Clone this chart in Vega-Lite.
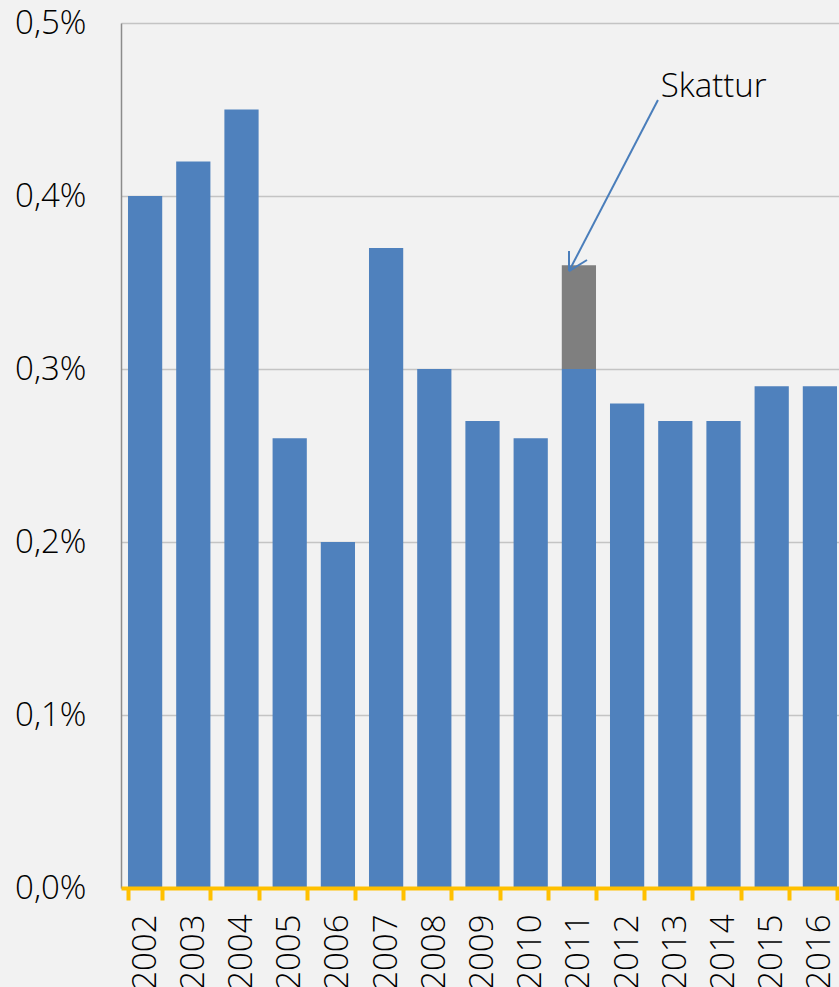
{
  "$schema": "https://vega.github.io/schema/vega-lite/v6.json",
  "autosize": "none",
  "width": 718,
  "height": 865,
  "padding": {"left": 121, "top": 23, "right": 0, "bottom": 99},
  "background": "#F2F2F2",
  "config": {
    "view": {"stroke": null, "fill": "#F2F2F2"},
    "font": "Open Sans",
    "locale": {"number": {"decimal": ",", "thousands": ".", "grouping": [3], "currency": ["", " kr"]}}
  },
  "datasets": {
    "bars": [
      {"year": "2002", "part": "base", "value": 0.0040},
      {"year": "2003", "part": "base", "value": 0.0042},
      {"year": "2004", "part": "base", "value": 0.0045},
      {"year": "2005", "part": "base", "value": 0.0026},
      {"year": "2006", "part": "base", "value": 0.0020},
      {"year": "2007", "part": "base", "value": 0.0037},
      {"year": "2008", "part": "base", "value": 0.0030},
      {"year": "2009", "part": "base", "value": 0.0027},
      {"year": "2010", "part": "base", "value": 0.0026},
      {"year": "2011", "part": "base", "value": 0.0030},
      {"year": "2011", "part": "skattur", "value": 0.0006},
      {"year": "2012", "part": "base", "value": 0.0028},
      {"year": "2013", "part": "base", "value": 0.0027},
      {"year": "2014", "part": "base", "value": 0.0027},
      {"year": "2015", "part": "base", "value": 0.0029},
      {"year": "2016", "part": "base", "value": 0.0029}
    ],
    "arrow": [
      {"x1": 11.14, "y1": 0.004555, "x2": 9.295, "y2": 0.003566},
      {"x1": 9.295, "y1": 0.003566, "x2": 9.295, "y2": 0.003682},
      {"x1": 9.295, "y1": 0.003566, "x2": 9.668, "y2": 0.003630}
    ],
    "label": [
      {"x": 11.2, "y": 0.00457, "text": "Skattur"}
    ]
  },
  "layer": [
    {
      "data": {"name": "bars"},
      "mark": {"type": "bar"},
      "encoding": {
        "x": {
          "field": "year", "type": "nominal", "sort": null,
          "scale": {"paddingInner": 0.29, "paddingOuter": 0.145, "range": [0, 723]},
          "axis": {
            "title": null, "labelAngle": -90, "labelFontSize": 33, "labelFont": "Open Sans", "labelFontWeight": 300,
            "labelColor": "#000000", "labelPadding": 14,
            "domainColor": "#FFC000", "domainWidth": 4, "tickColor": "#FFC000", "tickWidth": 4, "tickSize": 12,
            "tickBand": "extent", "grid": false, "zindex": 2
          }
        },
        "y": {
          "field": "value", "type": "quantitative", "stack": "zero",
          "scale": {"domain": [0, 0.005], "nice": false},
          "axis": {
            "title": null, "format": ".1%", "values": [0, 0.001, 0.002, 0.003, 0.004, 0.005],
            "labelFontSize": 33, "labelFont": "Open Sans", "labelFontWeight": 300, "labelColor": "#000000",
            "labelPadding": 35, "ticks": false, "tickSize": 0,
            "domainColor": "#8C8C8C", "domainWidth": 1.5,
            "gridColor": "#C4C4C4", "gridWidth": 1.5
          }
        },
        "color": {
          "field": "part", "type": "nominal",
          "scale": {"domain": ["base", "skattur"], "range": ["#4F81BD", "#7F7F7F"]},
          "legend": null
        },
        "order": {"field": "part", "sort": "ascending"}
      }
    },
    {
      "layer": [
        {
          "data": {"name": "arrow"},
          "mark": {"type": "rule", "color": "#4A7EBB", "strokeWidth": 2},
          "encoding": {
            "x": {"field": "x1", "type": "quantitative", "scale": {"domain": [0, 15], "nice": false, "zero": false, "range": [0, 723]}, "axis": null},
            "x2": {"field": "x2"},
            "y": {"field": "y1", "type": "quantitative"},
            "y2": {"field": "y2"}
          }
        },
        {
          "data": {"name": "label"},
          "mark": {"type": "text", "align": "left", "baseline": "alphabetic", "fontSize": 33, "font": "Open Sans", "fontWeight": 300, "color": "#000000"},
          "encoding": {
            "x": {"field": "x", "type": "quantitative", "scale": {"domain": [0, 15], "nice": false, "zero": false, "range": [0, 723]}, "axis": null},
            "y": {"field": "y", "type": "quantitative"},
            "text": {"field": "text"}
          }
        }
      ]
    }
  ],
  "resolve": {"scale": {"x": "independent"}}
}
